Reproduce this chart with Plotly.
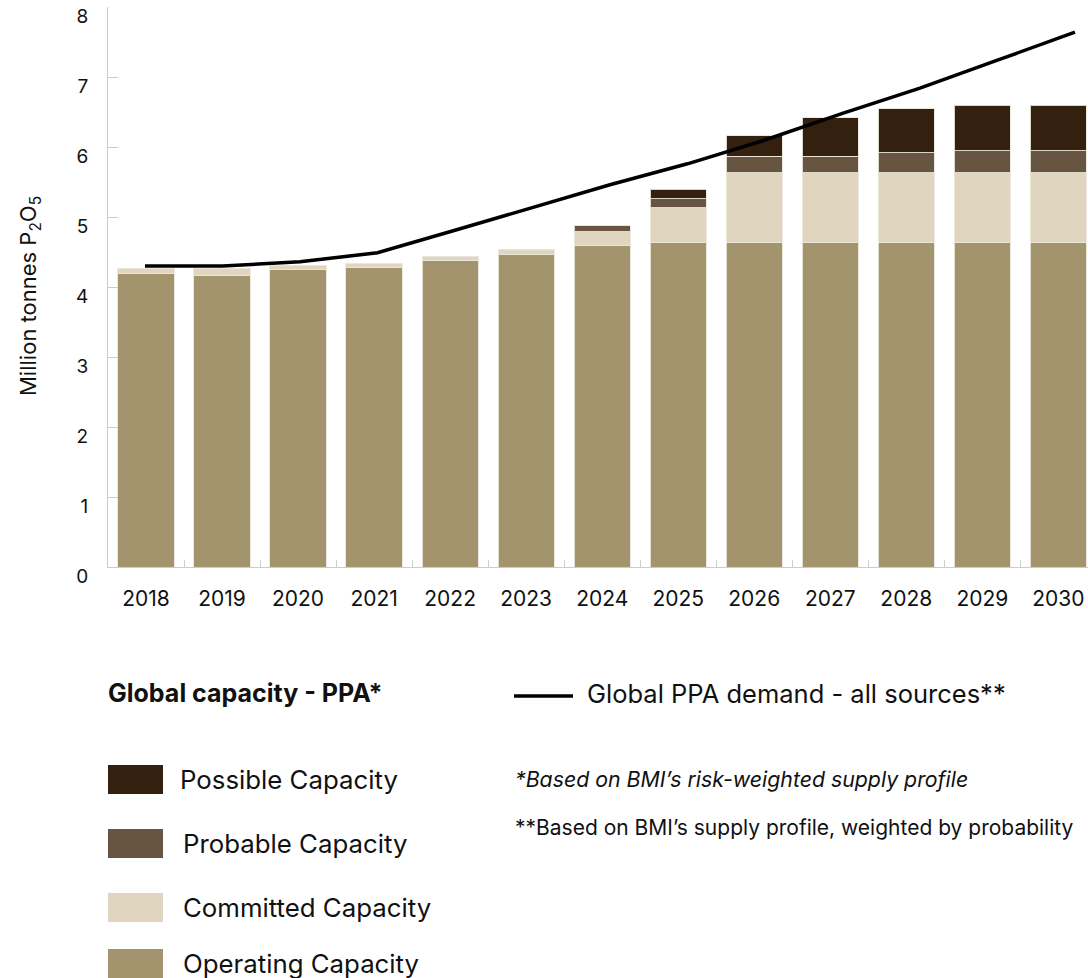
import plotly.graph_objects as go

years = ["2018", "2019", "2020", "2021", "2022", "2023", "2024",
         "2025", "2026", "2027", "2028", "2029", "2030"]
operating = [4.20, 4.17, 4.25, 4.28, 4.38, 4.46, 4.59, 4.63, 4.63, 4.63, 4.63, 4.63, 4.63]
committed = [0.07, 0.10, 0.06, 0.05, 0.05, 0.07, 0.20, 0.50, 1.00, 1.00, 1.00, 1.00, 1.00]
probable = [0, 0, 0, 0, 0, 0, 0.09, 0.13, 0.24, 0.24, 0.29, 0.32, 0.32]
possible = [0, 0, 0, 0, 0, 0, 0, 0.135, 0.29, 0.55, 0.63, 0.65, 0.65]
demand = [4.30, 4.30, 4.36, 4.49, 4.81, 5.14, 5.46, 5.76, 6.10, 6.48, 6.84, 7.24, 7.64]

y_ticks = [0, 1, 2, 3, 4, 5, 6, 7, 8]

C_OPER = "#A3946D"
C_COMM = "#E0D5BE"
C_PROB = "#675541"
C_POSS = "#33200F"

FONT = "Inter"
TXT = "#111111"

fig = go.Figure()
edge = dict(color="rgba(235,230,220,0.9)", width=1)
for name, vals, col in [("Operating Capacity", operating, C_OPER),
                        ("Committed Capacity", committed, C_COMM),
                        ("Probable Capacity", probable, C_PROB),
                        ("Possible Capacity", possible, C_POSS)]:
    fig.add_trace(go.Bar(x=years, y=vals, name=name,
                         marker=dict(color=col, line=edge)))

fig.add_trace(go.Scatter(x=years, y=demand, mode="lines", xaxis="x2",
                         name="Global PPA demand - all sources**",
                         line=dict(color="#000000", width=3.5)))

# pixel helpers for layout decorations (legend / notes)
L, R, T, B = 108, 1088, 7, 567
def px(x):
    return (x - L) / (R - L)
def py(y):
    return (B - y) / (B - T)

fig.update_layout(
    width=1088, height=978,
    margin=dict(l=L, r=1088 - R, t=T, b=978 - B),
    barmode="stack", bargap=0.26,
    plot_bgcolor="white", paper_bgcolor="white",
    showlegend=False,
    font=dict(family=FONT, color=TXT),
    xaxis=dict(type="category", range=[-0.5, 12.39],
               showline=True, linecolor="#cccccc", linewidth=1,
               ticks="inside", tickson="boundaries", ticklen=7,
               tickcolor="#cccccc", showgrid=False,
               tickfont=dict(size=21, family=FONT, color=TXT),
               ticklabelstandoff=13),
    xaxis2=dict(type="category", overlaying="x", range=[-0.477, 12.168],
                visible=False),
    yaxis=dict(range=[0, 8], tickvals=y_ticks, showline=True,
               linecolor="#cccccc", linewidth=1, ticks="inside",
               ticklen=10, tickcolor="#cccccc", showgrid=False,
               zeroline=False,
               tickfont=dict(size=19, family=FONT, color=TXT),
               ticklabelstandoff=15, ticklabelshift=9),
)

ann = []
ann.append(dict(text="Million tonnes P<sub>2</sub>O<sub>5</sub>", textangle=-90,
                xref="paper", yref="paper", x=px(30), y=py(296),
                xanchor="center", yanchor="middle", showarrow=False,
                font=dict(size=22, family=FONT, color=TXT)))
ann.append(dict(text="<b>Global capacity - PPA*</b>", xref="paper", yref="paper",
                x=px(106), y=py(693), xanchor="left", yanchor="middle",
                showarrow=False, font=dict(size=25, family=FONT, color=TXT)))
ann.append(dict(text="Global PPA demand - all sources**", xref="paper", yref="paper",
                x=px(585), y=py(693), xanchor="left", yanchor="middle",
                showarrow=False, font=dict(size=25.5, family=FONT, color=TXT)))
ann.append(dict(text="<i>*Based on BMI\u2019s risk-weighted supply profile</i>",
                xref="paper", yref="paper", x=px(513), y=py(779),
                xanchor="left", yanchor="middle", showarrow=False,
                font=dict(size=21.3, family=FONT, color=TXT)))
ann.append(dict(text="**Based on BMI\u2019s supply profile, weighted by probability",
                xref="paper", yref="paper", x=px(513), y=py(827),
                xanchor="left", yanchor="middle", showarrow=False,
                font=dict(size=21, family=FONT, color=TXT)))

shapes = []
legend_items = [("Possible Capacity", C_POSS, 765, 178),
                ("Probable Capacity", C_PROB, 829, 181),
                ("Committed Capacity", C_COMM, 893, 181),
                ("Operating Capacity", C_OPER, 949, 181)]
for label, col, top, tx in legend_items:
    shapes.append(dict(type="rect", xref="paper", yref="paper",
                       x0=px(108), x1=px(163), y0=py(top + 29), y1=py(top),
                       fillcolor=col, line=dict(width=0)))
    ann.append(dict(text=label, xref="paper", yref="paper", x=px(tx),
                    y=py(top + 14), xanchor="left", yanchor="middle",
                    showarrow=False,
                    font=dict(size=25.8, family=FONT, color=TXT)))
shapes.append(dict(type="line", xref="paper", yref="paper",
                   x0=px(514), x1=px(573), y0=py(696), y1=py(696),
                   line=dict(color="#000000", width=3.5)))

fig.update_layout(annotations=ann, shapes=shapes)
fig.write_html("out.html")
